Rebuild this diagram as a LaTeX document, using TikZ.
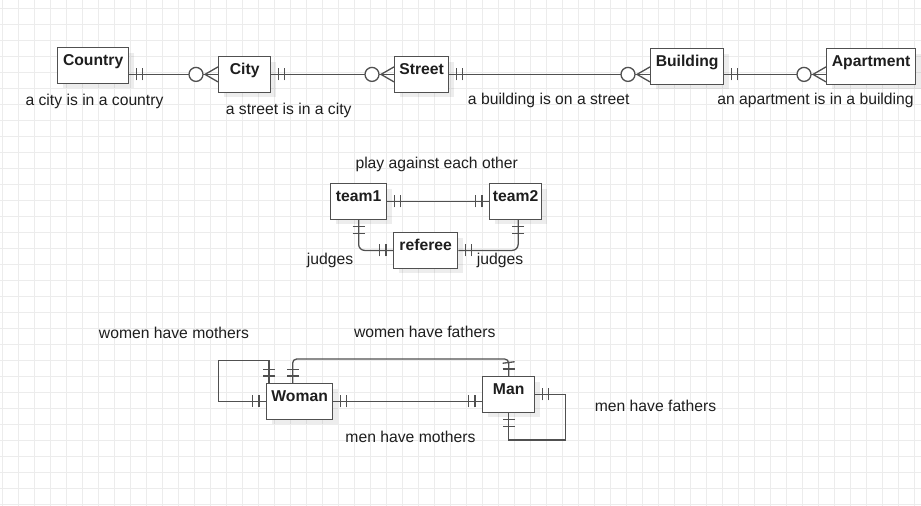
\documentclass[tikz,border=0pt]{standalone}
\usepackage{fontspec}
\setmainfont{Liberation Sans}
\usepackage{tikz}
\usetikzlibrary{arrows.meta,positioning,calc,decorations.markings,shadows}
\definecolor{lnc}{RGB}{80,80,80}
\definecolor{txc}{RGB}{30,30,30}
\definecolor{gridc}{RGB}{236,236,236}
\newcommand{\txtsize}{\fontsize{15.7}{19}\selectfont}
\tikzset{
  ent/.style={draw=lnc, fill=white, line width=1.3pt, font=\txtsize\bfseries, text=txc,
      inner xsep=0pt, inner ysep=0pt, text height=17.7pt, text depth=17.8pt,
      anchor=north west, minimum width=#1,
      drop shadow={shadow xshift=5pt, shadow yshift=-5pt, fill=black, opacity=0.07}},
  lbl/.style={font=\txtsize, text=txc},
  rel/.style={draw=lnc, line width=1.3pt},
  gridln/.style={draw=gridc, line width=1pt},
  onestart/.style={postaction={decorate, decoration={markings,
      mark=at position 7pt with {\draw[lnc, line width=1.3pt] (0,-6pt) -- (0,6pt);},
      mark=at position 13.5pt with {\draw[lnc, line width=1.3pt] (0,-6pt) -- (0,6pt);}}}},
  oneend/.style={postaction={decorate, decoration={markings,
      mark=at position -13.5pt with {\draw[lnc, line width=1.3pt] (0,-6pt) -- (0,6pt);},
      mark=at position -7pt with {\draw[lnc, line width=1.3pt] (0,-6pt) -- (0,6pt);}}}},
  manyend/.style={postaction={decorate, decoration={markings,
      mark=at position -22pt with {\draw[lnc, line width=1.3pt, fill=white] (0,0) circle (7pt);},
      mark=at position -13pt with {\draw[lnc, line width=1.3pt] (13pt,7.5pt) -- (0,0) -- (13pt,-7.5pt);}}}},
}

\begin{document}
\begin{tikzpicture}[x=1pt, y=-1pt]
\useasboundingbox (0,0) rectangle (921,506);
\fill[white] (0,0) rectangle (921,506);
%---- the grid
\foreach \gx in {2,18,...,914}{
  \draw[gridln] (\gx,0) -- (\gx,506);}
\foreach \gy in {8,24,...,504}{
  \draw[gridln] (0,\gy) -- (921,\gy);}
%---- the address chain
\node[ent=71pt] (country) at (57,47) {Country};
\node[ent=52pt] (city) at (218,56) {City};
\node[ent=54pt] (street) at (394,56) {Street};
\node[ent=73pt] (building) at (650,48) {Building};
\node[ent=89pt] (apartment) at (826,48) {Apartment};
\draw[rel, onestart, manyend] (country.east |- city.west) -- (city.west);
\draw[rel, onestart, manyend] (city.east) -- (street.west);
\draw[rel, onestart, manyend] (street.east) -- (building.west |- street.east);
\draw[rel, onestart, manyend] (building.east |- street.east) -- (apartment.west |- street.east);
\node[lbl] (lcountry) at (94.5,101.5) {a city is in a country};
\node[lbl] (lcity) at (288.7,110) {a street is in a city};
\node[lbl] (lstreet) at (548.7,100) {a building is on a street};
\node[lbl] (lbuilding) at (815.5,100) {an apartment is in a building};
%---- the match
\node[ent=56pt] (team1) at (330,183) {team1};
\node[ent=52pt] (team2) at (489,183) {team2};
\node[ent=64pt] (referee) at (393,232) {referee};
\draw[rel, onestart, oneend] (team1.east) -- (team2.west);
\draw[rel, rounded corners=6pt, onestart, oneend] (team1.south) |- (referee.west);
\draw[rel, rounded corners=6pt, onestart, oneend] (referee.east) -| ([xshift=2.5pt]team2.south);
\node[lbl] (lplay) at (436.7,164) {play against each other};
\node[lbl] (ljudge1) at (330,260) {judges};
\node[lbl] (ljudge2) at (500,260) {judges};
%---- the parents
\node[ent=66pt] (woman) at (266,383) {Woman};
\node[ent=52pt] (man) at (482,376) {Man};
\draw[rel, onestart, oneend] (woman.west) -| ++(-47.5,-40.75) -| ([xshift=3pt]woman.north west);
\draw[rel, rounded corners=4pt, onestart, oneend] ([xshift=-7pt]woman.north) -- ++(0,-24) -| (man.north);
\draw[rel, onestart, oneend] (woman.east) -- (man.west |- woman.east);
\draw[rel, onestart, oneend] (man.east) -| ++(30.5,45.5) -| (man.south);
\node[lbl] (lwmoth) at (174,332.7) {women have mothers};
\node[lbl] (lwfath) at (424.7,332) {women have fathers};
\node[lbl] (lmmoth) at (410.5,437) {men have mothers};
\node[lbl] (lmfath) at (655.5,406) {men have fathers};
\end{tikzpicture}
\end{document}
